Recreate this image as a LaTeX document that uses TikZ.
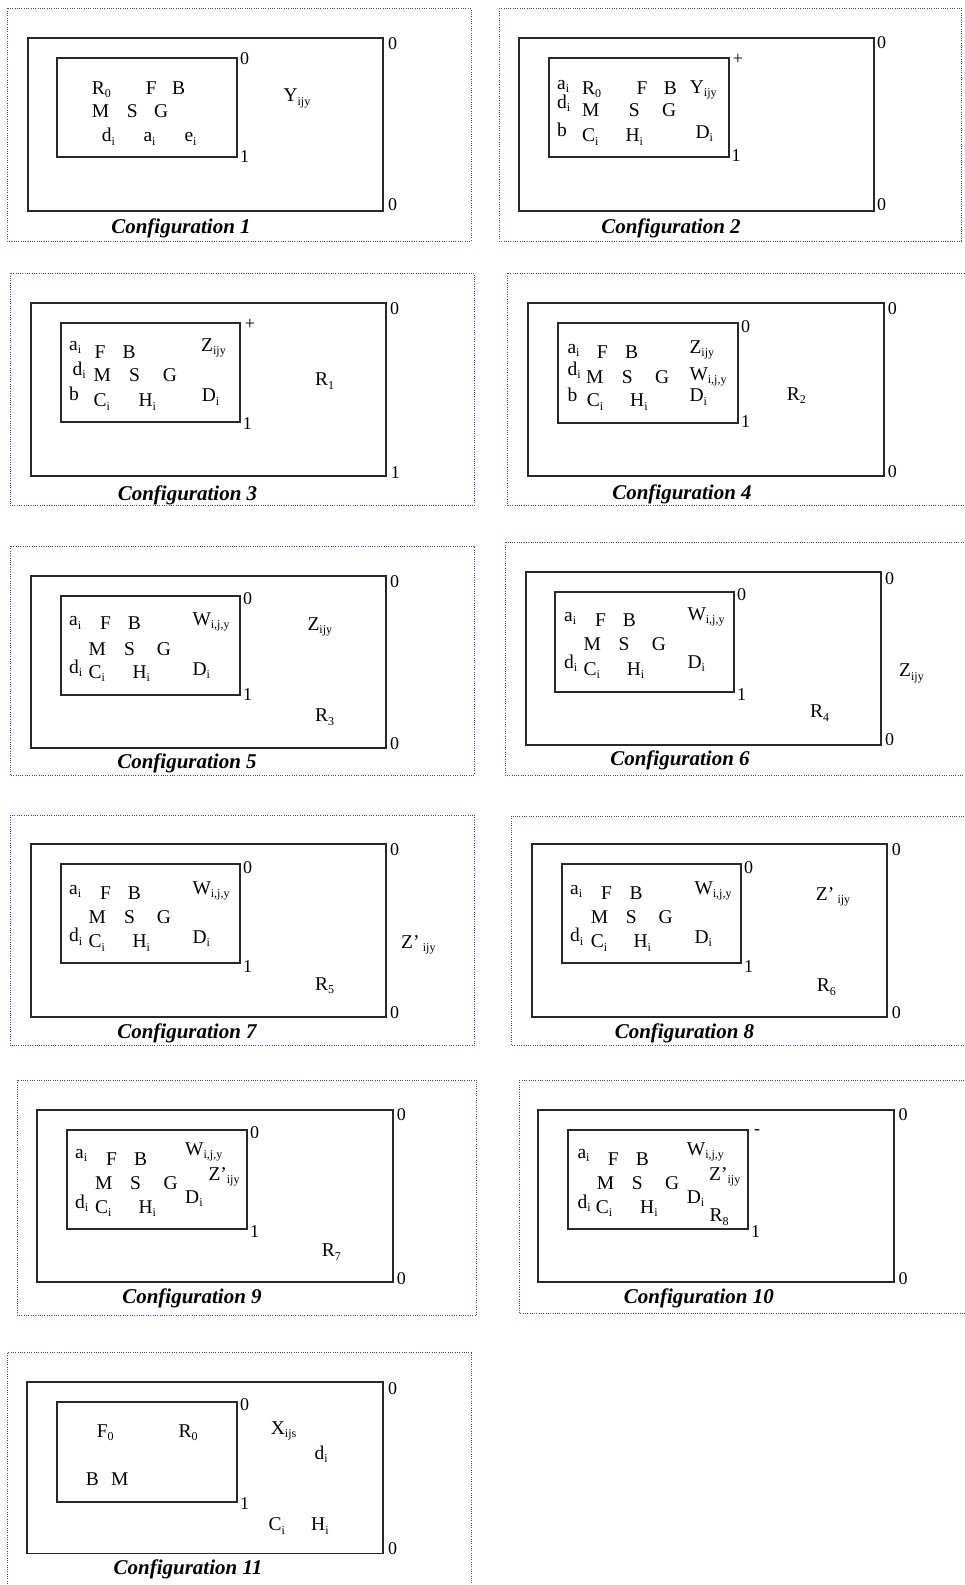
\documentclass[tikz,border=0pt]{standalone}
\usepackage{fontspec}
\setmainfont{Liberation Serif}
\definecolor{frameblue}{RGB}{60,60,185}
\definecolor{boxgray}{RGB}{40,40,40}
\newcommand\mysub[1]{\raisebox{-3.5pt}{\fontsize{12}{12}\selectfont #1}}
\newcommand\mytxt[4]{\node[txt] (#1) at (#2,#3) {#4};}
\newcommand\mynum[4]{\node[num] (#1) at (#2,#3) {#4};}
\newcommand\mycap[4]{\node[captxt] (#1) at (#2,#3) {#4};}
\tikzset{
 txt/.style={anchor=base west, inner sep=0pt, font=\fontsize{19.5}{20}\selectfont},
 num/.style={anchor=west, inner sep=0pt, font=\fontsize{18}{18}\selectfont},
 captxt/.style={anchor=base, inner sep=0pt, font=\fontsize{21}{21}\selectfont\bfseries\itshape},
 frame/.style={draw=frameblue, line width=1pt, dash pattern=on 1pt off 1.3pt},
 box/.style={draw=boxgray, line width=1.8pt},
}
\begin{document}
\begin{tikzpicture}[x=1pt,y=-1pt]
\useasboundingbox[fill=white] (0,0) rectangle (964,1585);

% ---------- Configuration 1 ----------
\draw[frame] (7.3,8.3) rectangle (471,241);
\draw[box] (27.7,37.7) rectangle (382.7,210.7);
\draw[box] (57.3,57.7) rectangle (236.7,157);
\mynum{p1o0}{388}{44}{0}
\mynum{p1o1}{388}{204.5}{0}
\mynum{p1i0}{240}{59}{0}
\mynum{p1i1}{240}{156.5}{1}
\mytxt{p1R}{91.7}{94}{R\mysub{0}}
\mytxt{p1F}{145.7}{94}{F}
\mytxt{p1B}{172}{94}{B}
\mytxt{p1M}{91.7}{117}{M}
\mytxt{p1S}{126.7}{117}{S}
\mytxt{p1G}{154}{117}{G}
\mytxt{p1d}{101.7}{141.7}{d\mysub{i}}
\mytxt{p1a}{143.3}{141.7}{a\mysub{i}}
\mytxt{p1e}{184.3}{141.7}{e\mysub{i}}
\mytxt{p1Y}{283.3}{101.7}{Y\mysub{ijy}}
\mycap{p1cap}{181}{233.5}{Configuration 1}

% ---------- Configuration 2 ----------
\draw[frame] (499.3,8.3) rectangle (961.5,241);
\draw[box] (518.7,37.7) rectangle (873.7,210.7);
\draw[box] (548.7,57.7) rectangle (728.7,156.7);
\mynum{p2o0}{877}{43}{0}
\mynum{p2o1}{877}{205}{0}
\node[num,anchor=center] (p2plus) at (738,59) {+};
\mynum{p2i1}{731.3}{156}{1}
\mytxt{p2a}{557}{89.3}{a\mysub{i}}
\mytxt{p2R}{582}{94.3}{R\mysub{0}}
\mytxt{p2F}{636.3}{94}{F}
\mytxt{p2B}{663.7}{94}{B}
\mytxt{p2Y}{689.7}{93.3}{Y\mysub{ijy}}
\mytxt{p2d}{557}{108.3}{d\mysub{i}}
\mytxt{p2M}{582}{116.7}{M}
\mytxt{p2S}{628.7}{116.7}{S}
\mytxt{p2G}{662}{116.7}{G}
\mytxt{p2b}{557}{136.7}{b}
\mytxt{p2C}{582}{141.7}{C\mysub{i}}
\mytxt{p2H}{625.3}{141.7}{H\mysub{i}}
\mytxt{p2D}{695.3}{138.3}{D\mysub{i}}
\mycap{p2cap}{671}{233.5}{Configuration 2}

% ---------- Configuration 3 ----------
\draw[frame] (10,273.3) rectangle (474.3,505.7);
\draw[box] (30.7,303.3) rectangle (386,475.7);
\draw[box] (60.7,323.3) rectangle (240,422.3);
\mynum{p3o0}{390}{308.3}{0}
\mynum{p3o1}{390.7}{472.3}{1}
\node[num,anchor=center] (p3plus) at (250,324) {+};
\mynum{p3i1}{242.7}{423.3}{1}
\mytxt{p3a}{69}{350}{a\mysub{i}}
\mytxt{p3F}{94.3}{358.3}{F}
\mytxt{p3B}{122.3}{358.3}{B}
\mytxt{p3Z}{201}{351}{Z\mysub{ijy}}
\mytxt{p3d}{72.3}{375}{d\mysub{i}}
\mytxt{p3M}{93.3}{381.7}{M}
\mytxt{p3S}{129}{381.7}{S}
\mytxt{p3G}{162.7}{381.7}{G}
\mytxt{p3b}{69}{400}{b}
\mytxt{p3C}{93.3}{406.7}{C\mysub{i}}
\mytxt{p3H}{138.3}{406.7}{H\mysub{i}}
\mytxt{p3D}{201.7}{401.7}{D\mysub{i}}
\mytxt{p3R}{315}{385.7}{R\mysub{1}}
\mycap{p3cap}{187.5}{500}{Configuration 3}

% ---------- Configuration 4 ----------
\draw[frame] (507.7,273.3) rectangle (966,505.7);
\draw[box] (528.3,303.3) rectangle (884.3,475.7);
\draw[box] (558.3,323.3) rectangle (738.3,422.7);
\mynum{p4o0}{887.7}{308.3}{0}
\mynum{p4o1}{887.7}{471.7}{0}
\mynum{p4i0}{741}{326.7}{0}
\mynum{p4i1}{741}{421.7}{1}
\mytxt{p4a}{567.3}{353.3}{a\mysub{i}}
\mytxt{p4F}{596.7}{358.3}{F}
\mytxt{p4B}{625}{358.3}{B}
\mytxt{p4Z}{689.3}{353.3}{Z\mysub{ijy}}
\mytxt{p4d}{567.3}{375}{d\mysub{i}}
\mytxt{p4M}{586}{383.3}{M}
\mytxt{p4S}{621.7}{383.3}{S}
\mytxt{p4G}{655}{383.3}{G}
\mytxt{p4W}{689.3}{380}{W\mysub{i,j,y}}
\mytxt{p4b}{567.3}{401.7}{b}
\mytxt{p4C}{586.7}{406.7}{C\mysub{i}}
\mytxt{p4H}{630}{406.7}{H\mysub{i}}
\mytxt{p4D}{689.3}{401.7}{D\mysub{i}}
\mytxt{p4R}{786.7}{400}{R\mysub{2}}
\mycap{p4cap}{682}{499.5}{Configuration 4}

% ---------- Configuration 5 ----------
\draw[frame] (10,546) rectangle (474.3,775);
\draw[box] (30.7,575.7) rectangle (386,747.7);
\draw[box] (60.7,595.7) rectangle (240,695);
\mynum{p5o0}{390}{581.7}{0}
\mynum{p5o1}{390}{743.3}{0}
\mynum{p5i0}{243}{598.3}{0}
\mynum{p5i1}{243}{694.3}{1}
\mytxt{p5a}{69}{625.7}{a\mysub{i}}
\mytxt{p5F}{100}{629.3}{F}
\mytxt{p5B}{127.7}{629.3}{B}
\mytxt{p5W}{192.3}{625}{W\mysub{i,j,y}}
\mytxt{p5M}{88.3}{655}{M}
\mytxt{p5S}{124}{655}{S}
\mytxt{p5G}{156.7}{655}{G}
\mytxt{p5d}{69}{673.3}{d\mysub{i}}
\mytxt{p5C}{88.3}{678.3}{C\mysub{i}}
\mytxt{p5H}{132.3}{678.3}{H\mysub{i}}
\mytxt{p5D}{192.3}{675}{D\mysub{i}}
\mytxt{p5Z}{307.3}{630}{Z\mysub{ijy}}
\mytxt{p5R}{315}{721.7}{R\mysub{3}}
\mycap{p5cap}{187}{768.3}{Configuration 5}

% ---------- Configuration 6 ----------
\draw[frame] (505.7,542.3) rectangle (966,775.7);
\draw[box] (525.7,572.3) rectangle (881,745);
\draw[box] (555,592.3) rectangle (734.3,691.7);
\mynum{p6o0}{885}{578.3}{0}
\mynum{p6o1}{885}{740}{0}
\mynum{p6i0}{737}{595}{0}
\mynum{p6i1}{737}{694.3}{1}
\mytxt{p6a}{564}{621}{a\mysub{i}}
\mytxt{p6F}{595}{626.7}{F}
\mytxt{p6B}{622.7}{626.7}{B}
\mytxt{p6W}{687.3}{620}{W\mysub{i,j,y}}
\mytxt{p6M}{583.3}{650}{M}
\mytxt{p6S}{618.3}{650}{S}
\mytxt{p6G}{651.7}{650}{G}
\mytxt{p6d}{564}{668.3}{d\mysub{i}}
\mytxt{p6C}{583.3}{675}{C\mysub{i}}
\mytxt{p6H}{626.7}{675}{H\mysub{i}}
\mytxt{p6D}{687.3}{668.3}{D\mysub{i}}
\mytxt{p6Z}{899}{676.7}{Z\mysub{ijy}}
\mytxt{p6R}{810}{717.7}{R\mysub{4}}
\mycap{p6cap}{680}{765}{Configuration 6}

% ---------- Configuration 7 ----------
\draw[frame] (10,815) rectangle (474.3,1045.7);
\draw[box] (30.7,844.3) rectangle (386,1016.7);
\draw[box] (60.7,864.3) rectangle (240,963.3);
\mynum{p7o0}{390}{850}{0}
\mynum{p7o1}{390}{1012.3}{0}
\mynum{p7i0}{243}{867.7}{0}
\mynum{p7i1}{243}{966.7}{1}
\mytxt{p7a}{69}{894.3}{a\mysub{i}}
\mytxt{p7F}{100}{899.3}{F}
\mytxt{p7B}{127.7}{899.3}{B}
\mytxt{p7W}{192.3}{894.3}{W\mysub{i,j,y}}
\mytxt{p7M}{88.3}{923.3}{M}
\mytxt{p7S}{124}{923.3}{S}
\mytxt{p7G}{156.7}{923.3}{G}
\mytxt{p7d}{69}{941.7}{d\mysub{i}}
\mytxt{p7C}{88.3}{947.7}{C\mysub{i}}
\mytxt{p7H}{132.3}{947.7}{H\mysub{i}}
\mytxt{p7D}{192.3}{943.3}{D\mysub{i}}
\mytxt{p7Z}{401}{948}{Z’\,\mysub{ijy}}
\mytxt{p7R}{315}{990}{R\mysub{5}}
\mycap{p7cap}{187}{1038.3}{Configuration 7}

% ---------- Configuration 8 ----------
\draw[frame] (511.7,816) rectangle (966,1045.7);
\draw[box] (531.7,844.3) rectangle (887.3,1016.7);
\draw[box] (561.7,864.3) rectangle (741,963.3);
\mynum{p8o0}{891.7}{850}{0}
\mynum{p8o1}{891.7}{1012.3}{0}
\mynum{p8i0}{744}{867.7}{0}
\mynum{p8i1}{744}{966.7}{1}
\mytxt{p8a}{570}{894.3}{a\mysub{i}}
\mytxt{p8F}{601}{899.3}{F}
\mytxt{p8B}{629.3}{899.3}{B}
\mytxt{p8W}{694.3}{894.3}{W\mysub{i,j,y}}
\mytxt{p8M}{590.7}{923.3}{M}
\mytxt{p8S}{625.7}{923.3}{S}
\mytxt{p8G}{658.3}{923.3}{G}
\mytxt{p8d}{570}{941.7}{d\mysub{i}}
\mytxt{p8C}{590.7}{947.7}{C\mysub{i}}
\mytxt{p8H}{633.3}{947.7}{H\mysub{i}}
\mytxt{p8D}{694.3}{943.3}{D\mysub{i}}
\mytxt{p8Z}{815.7}{900}{Z’\,\mysub{ijy}}
\mytxt{p8R}{816.7}{991.7}{R\mysub{6}}
\mycap{p8cap}{684.5}{1038.3}{Configuration 8}

% ---------- Configuration 9 ----------
\draw[frame] (17.3,1080) rectangle (476.7,1315);
\draw[box] (37.3,1110) rectangle (392.7,1282.3);
\draw[box] (67.3,1130) rectangle (246.7,1229);
\mynum{p9o0}{396.7}{1115}{0}
\mynum{p9o1}{396.7}{1278.3}{0}
\mynum{p9i0}{250}{1132.7}{0}
\mynum{p9i1}{250}{1231.7}{1}
\mytxt{p9a}{75}{1158.3}{a\mysub{i}}
\mytxt{p9F}{106}{1165}{F}
\mytxt{p9B}{134}{1165}{B}
\mytxt{p9W}{185}{1155}{W\mysub{i,j,y}}
\mytxt{p9Z}{208.3}{1180}{Z’\mysub{ijy}}
\mytxt{p9M}{95}{1189.3}{M}
\mytxt{p9S}{130}{1189.3}{S}
\mytxt{p9G}{163.3}{1189.3}{G}
\mytxt{p9D}{185}{1203.3}{D\mysub{i}}
\mytxt{p9d}{75}{1208.3}{d\mysub{i}}
\mytxt{p9C}{95}{1213.3}{C\mysub{i}}
\mytxt{p9H}{138.3}{1213.3}{H\mysub{i}}
\mytxt{p9R}{321.7}{1256.7}{R\mysub{7}}
\mycap{p9cap}{192}{1303.3}{Configuration 9}

% ---------- Configuration 10 ----------
\draw[frame] (519,1080) rectangle (966,1313.3);
\draw[box] (538.3,1110) rectangle (894.3,1282.3);
\draw[box] (568.3,1130) rectangle (747.7,1229);
\mynum{p10o0}{898.3}{1115}{0}
\mynum{p10o1}{898.3}{1278.3}{0}
\node[num,anchor=center] (p10minus) at (757,1132) {-};
\mynum{p10i1}{751}{1231.7}{1}
\mytxt{p10a}{577.3}{1158.3}{a\mysub{i}}
\mytxt{p10F}{607.7}{1165}{F}
\mytxt{p10B}{635.7}{1165}{B}
\mytxt{p10W}{686.7}{1155}{W\mysub{i,j,y}}
\mytxt{p10Z}{709}{1180}{Z’\mysub{ijy}}
\mytxt{p10M}{596.7}{1189.3}{M}
\mytxt{p10S}{631.7}{1189.3}{S}
\mytxt{p10G}{665}{1189.3}{G}
\mytxt{p10D}{686.7}{1203.3}{D\mysub{i}}
\mytxt{p10d}{577.3}{1208.3}{d\mysub{i}}
\mytxt{p10C}{595.7}{1213.3}{C\mysub{i}}
\mytxt{p10H}{640}{1213.3}{H\mysub{i}}
\mytxt{p10R}{709.3}{1221.7}{R\mysub{8}}
\mycap{p10cap}{698.8}{1303.3}{Configuration 10}

% ---------- Configuration 11 ----------
\draw[frame] (7.3,1600) -- (7.3,1352.7) -- (471,1352.7) -- (471,1600);
\draw[box] (27.3,1382.3) rectangle (382.7,1553.5);
\draw[box] (57.3,1401.7) rectangle (236.7,1501.7);
\mynum{p11o0}{388}{1388.3}{0}
\mynum{p11o1}{388}{1549}{0}
\mynum{p11i0}{240}{1405}{0}
\mynum{p11i1}{240}{1503.3}{1}
\mytxt{p11F}{96.7}{1437.3}{F\mysub{0}}
\mytxt{p11R}{178.3}{1437.3}{R\mysub{0}}
\mytxt{p11X}{270.7}{1434}{X\mysub{ijs}}
\mytxt{p11d}{314.3}{1459.3}{d\mysub{i}}
\mytxt{p11B}{85.7}{1485.7}{B}
\mytxt{p11M}{111}{1485.7}{M}
\mytxt{p11C}{268.3}{1530.5}{C\mysub{i}}
\mytxt{p11H}{311}{1530.5}{H\mysub{i}}
\mycap{p11cap}{188}{1574.5}{Configuration 11}
\end{tikzpicture}
\end{document}
